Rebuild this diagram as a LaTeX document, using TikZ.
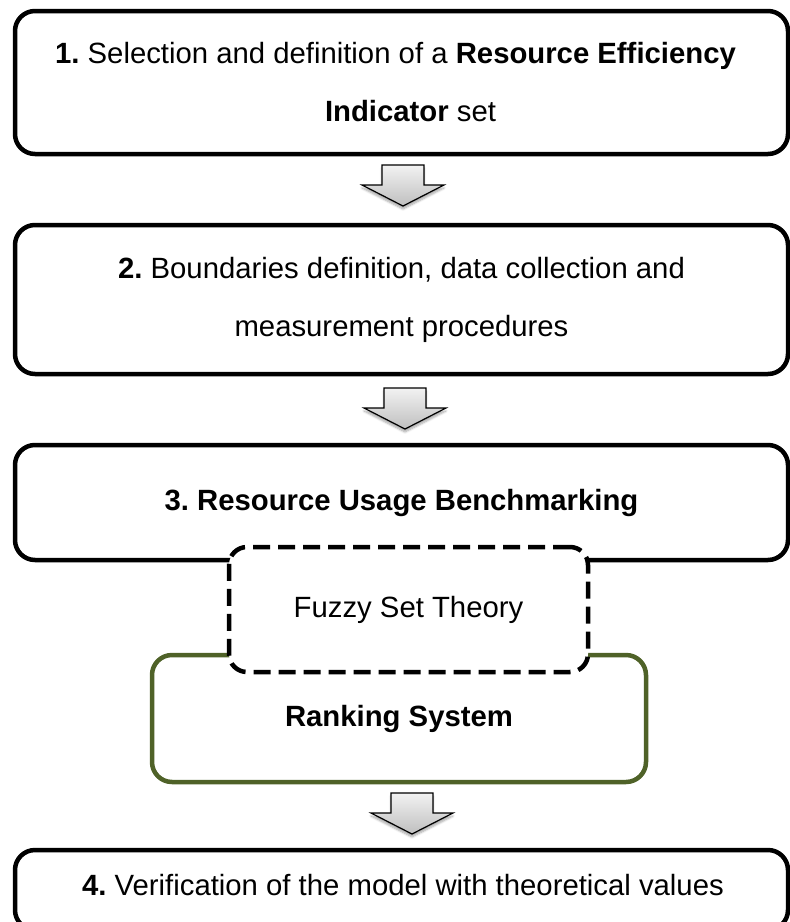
\documentclass[tikz,border=0pt]{standalone}
\usepackage{fontspec}
\setmainfont{Liberation Sans}
\usetikzlibrary{shadows.blur}
\definecolor{rankgreen}{HTML}{4F6228}
\definecolor{arrowtop}{HTML}{F2F2F2}
\definecolor{arrowbottom}{HTML}{BFBFBF}
\frenchspacing

% block arrow pointing down, drawn from its top centre
\newcommand\flowarrow[1]{%
  \begin{scope}[shift={#1}]
    \path[blockarrow]
      (-21,0) -- (21,0) -- (21,20) -- (41,20) -- (0,41) -- (-41,20) -- (-21,20) -- cycle;
  \end{scope}}

\begin{document}
\begin{tikzpicture}[x=1pt,y=-1pt,
  every node/.style={font=\fontsize{29.3}{58}\selectfont, align=center, inner sep=0pt},
  stage/.style={draw=black, line width=4.5pt, rounded corners=20pt, fill=white,
                minimum width=773pt},
  fuzzybox/.style={draw=black, line width=4.5pt, rounded corners=18pt, fill=white,
                   dash pattern=on 17pt off 8pt, minimum width=359pt, minimum height=125pt},
  rankbox/.style={draw=rankgreen, line width=4.5pt, rounded corners=20pt, fill=white,
                  minimum width=494pt, minimum height=127pt},
  blockarrow/.style={draw=black, line width=1.2pt, line join=miter,
                     top color=arrowtop, bottom color=arrowbottom,
                     blur shadow={shadow xshift=0pt, shadow yshift=-3pt,
                                  shadow opacity=35, shadow blur steps=6}}
]
\useasboundingbox (0,0) rectangle (790,922);
\clip (0,0) rectangle (790,922);

% main stages
\node[stage, minimum height=143pt] (s1) at (401.5,82.5)
  {\textbf{1.} Selection and definition of a \textbf{Resource Efficiency}\hspace*{12pt}\\
   \hspace*{18pt}\textbf{Indicator} set};
\node[stage, minimum height=149pt] (s2) at (401.5,299.5)
  {\textbf{2.} Boundaries definition, data collection and\\
   measurement procedures};
\node[stage, minimum height=115pt] (s3) at (401.5,502.5)
  {\textbf{3. Resource Usage Benchmarking}};

% ranking system with the fuzzy set theory block laid over its top
\node[rankbox] (rank) at (399,718.5) {\textbf{Ranking System}};
\node[fuzzybox] (fuzzy) at (408.5,609.5) {Fuzzy Set Theory};

% final stage, running past the bottom edge
\node[stage, minimum height=80pt] (s4) at (401.5,890) {};
\node (s4text) at (403,885) {\textbf{4.} Verification of the model with theoretical values};

% arrows between stages
\flowarrow{(403,165)}
\flowarrow{(405,388)}
\flowarrow{(412,793)}
\end{tikzpicture}
\end{document}
